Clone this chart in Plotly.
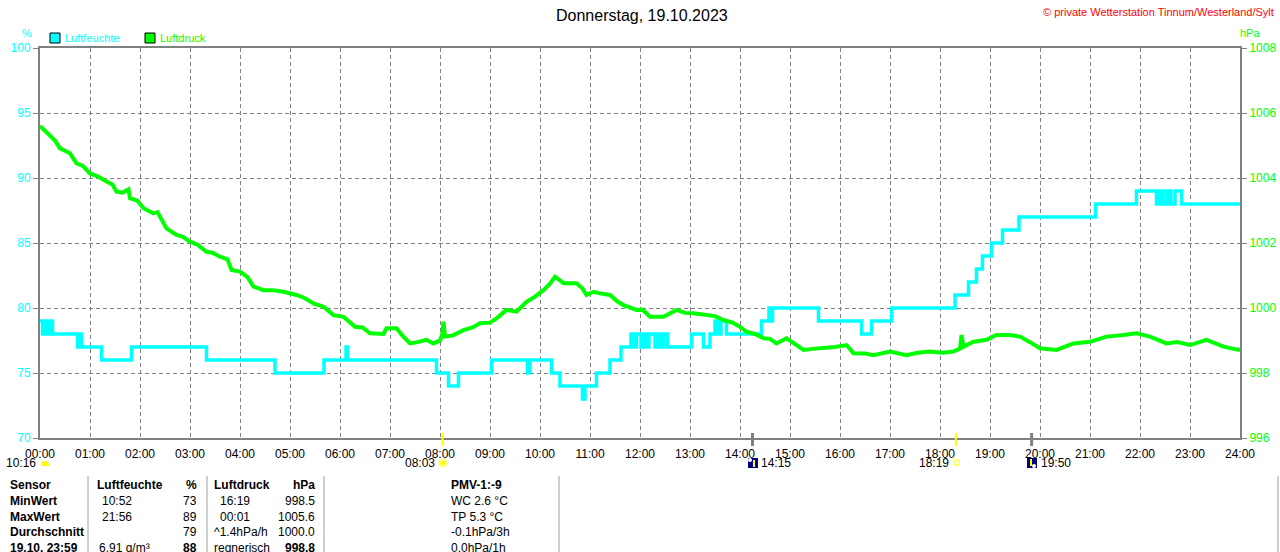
import plotly.graph_objects as go

# Luftfeuchte (%), Stufenwerte: Zeit in Stunden, Wert gilt bis zum naechsten Zeitpunkt
hum_t = [0.00, 0.05, 0.08, 0.10, 0.15, 0.18, 0.22, 0.25, 0.75, 0.80, 0.83, 1.23, 1.83, 3.33,
         4.70, 5.68, 6.12, 6.15, 7.93, 8.17, 8.37, 9.03, 9.75, 9.80, 10.23, 10.40, 10.85, 10.90,
         11.13, 11.40, 11.62, 11.82, 11.87, 11.93, 12.02, 12.08, 12.12, 12.18, 12.30, 12.35,
         12.42, 12.47, 12.55, 13.03, 13.27, 13.40, 13.50, 13.55, 13.62, 13.73, 14.43, 14.58,
         14.62, 14.65, 15.57, 16.43, 16.63, 17.03, 18.30, 18.57, 18.73, 18.85, 19.03, 19.25,
         19.58, 21.11, 21.93, 22.33, 22.40, 22.47, 22.55, 22.62, 22.70, 22.83, 24.00]
hum_v = [79, 78, 79, 78, 79, 78, 79, 78, 77, 78, 77, 76, 77, 76,
         75, 76, 77, 76, 75, 74, 75, 76, 75, 76, 75, 74, 73, 74,
         75, 76, 77, 78, 77, 78, 77, 78, 77, 78, 77, 78,
         77, 78, 77, 78, 77, 78, 79, 78, 79, 78, 79, 80,
         79, 80, 79, 78, 79, 80, 81, 82, 83, 84, 85, 86,
         87, 88, 89, 88, 89, 88, 89, 88, 89, 88, 88]

# Luftdruck (hPa)
pres_t = [0.00, 0.10, 0.20, 0.30, 0.40, 0.50, 0.60, 0.73, 0.85, 1.00, 1.15, 1.33, 1.45, 1.53,
          1.65, 1.77, 1.80, 1.95, 2.07, 2.27, 2.35, 2.53, 2.73, 2.85, 3.00, 3.15, 3.33, 3.45,
          3.60, 3.75, 3.83, 4.00, 4.15, 4.27, 4.47, 4.65, 4.87, 5.13, 5.30, 5.47, 5.67, 5.87,
          6.07, 6.30, 6.45, 6.60, 6.87, 6.93, 7.13, 7.25, 7.40, 7.55, 7.73, 7.87, 8.00, 8.05,
          8.07, 8.10, 8.25, 8.47, 8.65, 8.80, 9.00, 9.13, 9.33, 9.53, 9.73, 9.90, 10.07, 10.20,
          10.30, 10.40, 10.47, 10.73, 10.85, 10.93, 11.07, 11.20, 11.40, 11.55, 11.67, 11.93,
          12.05, 12.20, 12.47, 12.73, 12.90, 13.07, 13.33, 13.50, 13.67, 13.85, 14.00, 14.13,
          14.30, 14.47, 14.60, 14.73, 14.93, 15.10, 15.27, 15.50, 15.67, 15.90, 16.13, 16.27,
          16.50, 16.67, 17.00, 17.33, 17.55, 17.80, 18.05, 18.27, 18.40, 18.43, 18.47, 18.67,
          18.93, 19.13, 19.40, 19.60, 19.80, 20.00, 20.33, 20.67, 21.00, 21.33, 21.67, 21.93,
          22.20, 22.53, 22.75, 23.00, 23.33, 23.67, 23.97, 24.00]
pres_v = [1005.60, 1005.45, 1005.27, 1005.15, 1004.91, 1004.85, 1004.76, 1004.45, 1004.38,
          1004.14, 1004.05, 1003.89, 1003.80, 1003.58, 1003.55, 1003.65, 1003.38, 1003.30,
          1003.07, 1002.91, 1002.95, 1002.45, 1002.25, 1002.20, 1002.04, 1001.95, 1001.73,
          1001.70, 1001.58, 1001.50, 1001.17, 1001.12, 1000.95, 1000.66, 1000.55, 1000.55,
          1000.50, 1000.40, 1000.30, 1000.14, 1000.04, 999.78, 999.73, 999.42, 999.40, 999.22,
          999.20, 999.38, 999.38, 999.15, 998.91, 998.95, 999.02, 998.91, 999.00, 999.22,
          999.58, 999.12, 999.15, 999.32, 999.40, 999.53, 999.55, 999.68, 999.94, 999.89,
          1000.19, 1000.35, 1000.55, 1000.75, 1000.96, 1000.85, 1000.76, 1000.76, 1000.60,
          1000.40, 1000.50, 1000.45, 1000.40, 1000.20, 1000.09, 999.94, 999.95, 999.73, 999.73,
          999.94, 999.85, 999.84, 999.78, 999.75, 999.63, 999.55, 999.42, 999.27, 999.20,
          999.07, 999.05, 998.91, 999.07, 998.90, 998.71, 998.75, 998.76, 998.80, 998.86,
          998.61, 998.60, 998.55, 998.66, 998.55, 998.62, 998.66, 998.62, 998.66, 998.75,
          999.17, 998.81, 998.96, 999.02, 999.17, 999.17, 999.12, 998.95, 998.76, 998.71,
          998.91, 998.96, 999.12, 999.17, 999.22, 999.12, 998.91, 998.95, 998.86, 999.02,
          998.81, 998.71, 998.75]

hours = list(range(25))
hour_labels = ["%02d:00" % h for h in hours]
hum_ticks = [70, 75, 80, 85, 90, 95, 100]
pres_ticks = [996, 998, 1000, 1002, 1004, 1006, 1008]

# Sonnen-/Mondzeiten (Stunden)
sun_rise, sun_set = 8.05, 18.317
moon_rise, moon_set = 14.25, 19.833

# Tabelle unten
row_names = ["Sensor", "MinWert", "MaxWert", "Durchschnitt", "19.10. 23:59"]
hum_info = ["Luftfeuchte", "10:52", "21:56", "", "6.91 g/m³"]
hum_vals = ["%", "73", "89", "79", "88"]
pres_info = ["Luftdruck", "16:19", "00:01", "^1.4hPa/h", "regnerisch"]
pres_vals = ["hPa", "998.5", "1005.6", "1000.0", "998.8"]
extra_info = ["PMV-1:-9", "WC 2.6 °C", "TP 5.3 °C", "-0.1hPa/3h", "0.0hPa/1h"]

CYAN = "#00FFFF"
GREEN = "#00FF00"
GRAY = "#808080"
FONT = "Liberation Sans, Arial, sans-serif"


def px(x):
    return (x - 40) / 1200.0


def py(y):
    return (438 - y) / 390.0


fig = go.Figure()
fig.add_trace(go.Scatter(x=hum_t, y=hum_v, mode="lines", name="Luftfeuchte",
                         line=dict(color=CYAN, width=3.5, shape="hv"), yaxis="y"))
fig.add_trace(go.Scatter(x=pres_t, y=pres_v, mode="lines", name="Luftdruck",
                         line=dict(color=GREEN, width=4), yaxis="y2"))

anns = []
shapes = []


def text(x, y, s, color="black", size=12, anchor="left", bold=False):
    if bold:
        s = "<b>" + s + "</b>"
    anns.append(dict(x=px(x), y=py(y), xref="paper", yref="paper", text=s, showarrow=False,
                     xanchor=anchor, yanchor="middle", font=dict(color=color, size=size, family=FONT)))


def rect(x0, y0, x1, y1, fill, line="rgba(0,0,0,0)", lw=1):
    shapes.append(dict(type="rect", xref="paper", yref="paper", x0=px(x0), x1=px(x1),
                       y0=py(y1), y1=py(y0), fillcolor=fill, line=dict(color=line, width=lw)))


def seg(x0, y0, x1, y1, color, w=1):
    shapes.append(dict(type="line", xref="paper", yref="paper", x0=px(x0), x1=px(x1),
                       y0=py(y0), y1=py(y1), line=dict(color=color, width=w)))


# Kopf
text(642, 15, "Donnerstag, 19.10.2023", size=16, anchor="center")
text(1276, 12, "© private Wetterstation Tinnum/Westerland/Sylt", color="red", size=11, anchor="right")
text(27, 33, "%", color=CYAN, size=11, anchor="center")
text(1250, 33, "hPa", color=GREEN, size=11, anchor="center")

# Legende
rect(50, 33, 60, 43, CYAN, "black")
text(63, 38, "Luftfeuchte", color=CYAN, size=11)
rect(145, 33, 155, 43, GREEN, "black")
text(158, 38, "Luftdruck", color=GREEN, size=11)

# Sonne / Mond
for t, c, w in [(sun_rise, "#FFFF00", 2), (sun_set, "#FFFF00", 2), (moon_rise, GRAY, 3), (moon_set, GRAY, 3)]:
    shapes.append(dict(type="line", xref="x", yref="paper", x0=t, x1=t, y0=py(433), y1=py(446),
                       line=dict(color=c, width=w)))

text(38, 463, "10:16", size=12, anchor="right")
shapes.append(dict(type="circle", xref="paper", yref="paper", x0=px(41), x1=px(49), y0=py(469), y1=py(461),
                   fillcolor="#FFFF00", line=dict(width=0)))
rect(40, 466, 50, 470, "white")

text(437, 463, "08:03", size=12, anchor="right")
shapes.append(dict(type="circle", xref="paper", yref="paper", x0=px(438), x1=px(448), y0=py(468), y1=py(458),
                   fillcolor="#FFFFA0", line=dict(width=0)))
shapes.append(dict(type="circle", xref="paper", yref="paper", x0=px(440.5), x1=px(445.5), y0=py(465.5), y1=py(460.5),
                   fillcolor="#FFFF00", line=dict(width=0)))

rect(748, 458, 758, 468, "#000080")
seg(754, 460, 754, 467, "#FFFF00", 2)
shapes.append(dict(type="circle", xref="paper", yref="paper", x0=px(748), x1=px(752), y0=py(462), y1=py(458),
                   fillcolor="white", line=dict(width=0)))
text(759, 463, "14:15", size=12)

text(951, 463, "18:19", size=12, anchor="right")
rect(954, 460, 959, 465, "white", "#FFFF00", 1)

rect(1027, 458, 1037, 468, "#000080")
seg(1031, 459, 1031, 466, "#FFFF00", 2)
shapes.append(dict(type="circle", xref="paper", yref="paper", x0=px(1032), x1=px(1036), y0=py(468), y1=py(464),
                   fillcolor="white", line=dict(width=0)))
text(1039, 463, "19:50", size=12)

# Tabelle
for xl in [88, 207, 324, 559, 1278]:
    seg(xl, 476, xl, 552, "#A0A0A0", 1)

row_y = [485, 501, 517, 532, 548]
for i, y in enumerate(row_y):
    last = i == len(row_y) - 1
    text(8, y, row_names[i], bold=True)
    text(95 if i == 0 else (97 if last else 100), y, hum_info[i], bold=(i == 0))
    text(199, y, hum_vals[i], anchor="right", bold=(i == 0 or last))
    text(212 if i in (0, 3, 4) else 218, y, pres_info[i], bold=(i == 0))
    text(317, y, pres_vals[i], anchor="right", bold=(i == 0 or last))
    text(449, y, extra_info[i], bold=(i == 0))

fig.update_layout(
    width=1280, height=552,
    margin=dict(l=40, r=40, t=48, b=114, pad=0),
    paper_bgcolor="white", plot_bgcolor="white",
    showlegend=False,
    font=dict(family=FONT, size=12, color="black"),
    xaxis=dict(range=[0, 24], tickvals=hours, ticktext=hour_labels, showgrid=True,
               gridcolor=GRAY, griddash="4px,3px", gridwidth=1, zeroline=False,
               showline=True, linecolor=GRAY, linewidth=2, mirror=True, ticks="",
               ticklabelstandoff=4, automargin=False, tickfont=dict(size=12, color="black")),
    yaxis=dict(range=[70, 100], tickvals=hum_ticks, showgrid=True, gridcolor=GRAY,
               griddash="4px,3px", gridwidth=1, zeroline=False, showline=True,
               linecolor=GRAY, linewidth=2, ticks="outside", ticklen=5, tickcolor=GRAY,
               automargin=False, tickfont=dict(size=12, color=CYAN)),
    yaxis2=dict(range=[996, 1008], tickvals=pres_ticks, overlaying="y", side="right",
                showgrid=False, zeroline=False, showline=True, linecolor=GRAY, linewidth=2,
                ticks="outside", ticklen=5, tickcolor=GRAY, automargin=False,
                tickfont=dict(size=12, color=GREEN)),
    annotations=anns,
    shapes=shapes,
)

fig.write_html("out.html", config={"displayModeBar": False},
               post_script="document.body.style.margin='0';document.body.style.overflow='hidden';")
